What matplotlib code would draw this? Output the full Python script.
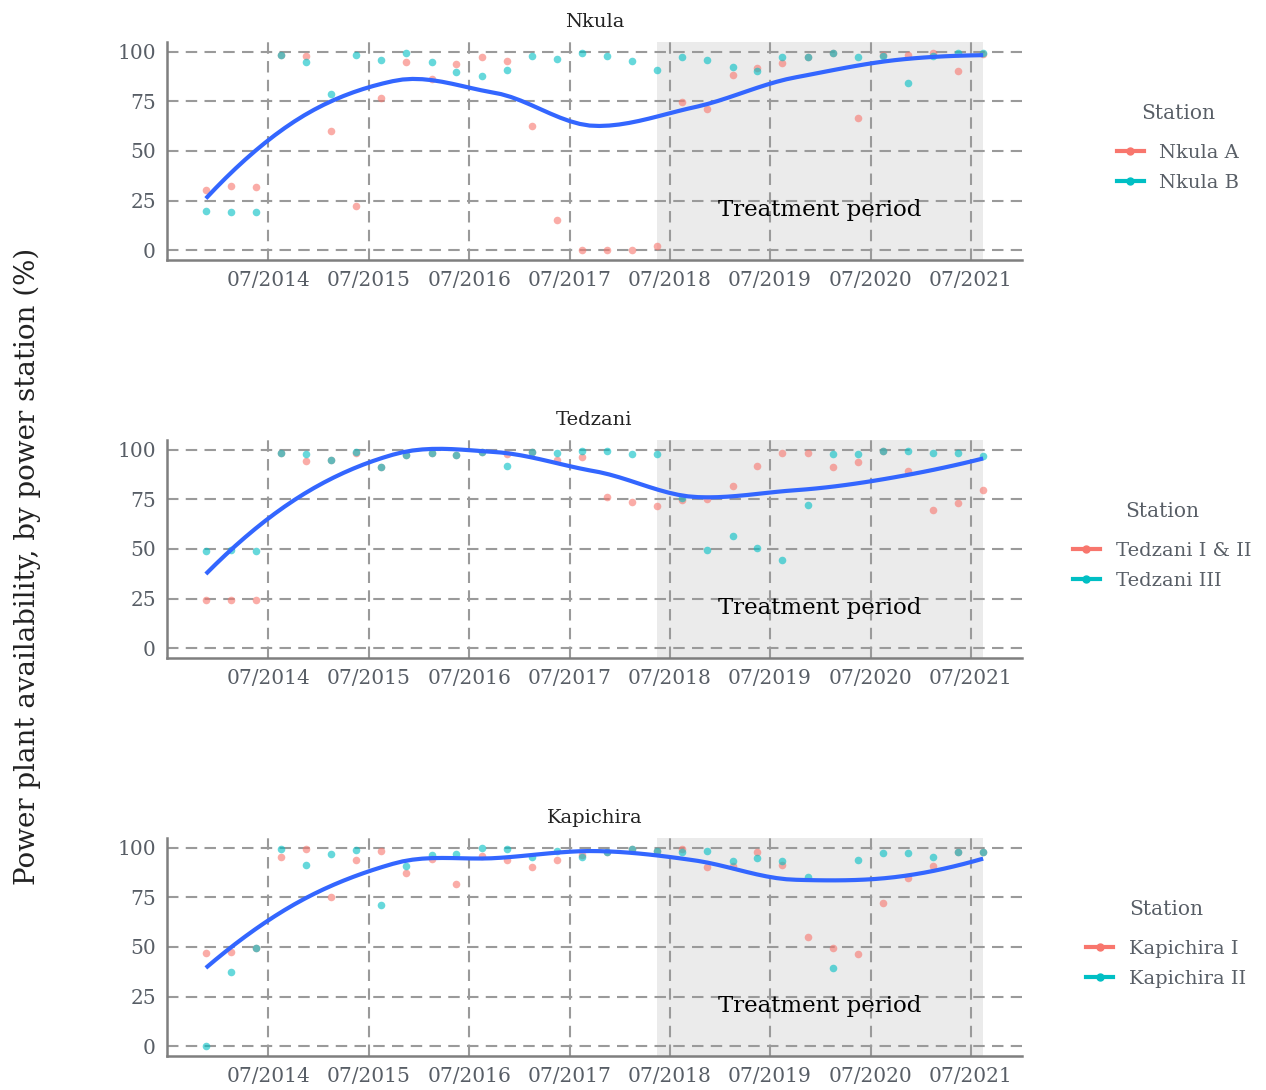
import numpy as np
import pandas as pd
import matplotlib
matplotlib.use("Agg")
import matplotlib.pyplot as plt
import matplotlib.dates as mdates
from matplotlib.lines import Line2D

plt.rcParams['font.family'] = ['DejaVu Serif']

# ---------------- data ----------------
quarters = pd.date_range('2013-11-01', periods=32, freq='3MS') + pd.Timedelta(days=14)
treatment_start = quarters[18]
treatment_end = quarters[-1]
tick_dates = pd.date_range('2014-07-01', '2021-07-01', freq='12MS')
tick_labels = [d.strftime('%m/%Y') for d in tick_dates]

nkula_a = [30.2, 32.3, 31.6, 98.5, 98.1, 60.1, 22.3, 76.5, 94.9, 86.5, 94.1, 97.6, 95.3, 62.5, 15.2, 0.0,
           0.0, 0.0, 2.0, 74.7, 71.3, 88.5, 91.9, 94.4, 97.5, 99.2, 66.4, 98.6, 98.5, 99.5, 90.4, 99.0]
nkula_b = [19.6, 19.4, 19.1, 98.6, 94.9, 78.7, 98.6, 95.8, 99.2, 94.8, 89.7, 87.7, 90.9, 98.1, 96.3, 99.7,
           98.1, 95.3, 90.9, 97.5, 95.8, 92.6, 90.4, 97.5, 97.5, 99.2, 97.6, 97.8, 84.3, 98.1, 99.5, 99.2]

tedzani_12 = [24.5, 24.5, 24.5, 98.3, 94.6, 94.9, 98.3, 91.6, 97.5, 98.3, 97.5, 98.8, 98.1, 98.8, 94.8, 96.3,
              76.4, 73.5, 71.5, 74.7, 75.2, 81.8, 91.9, 98.5, 98.6, 91.6, 94.1, 99.2, 89.4, 69.5, 73.4, 79.8]
tedzani_3 = [48.9, 49.7, 48.9, 98.3, 98.0, 94.9, 99.0, 91.6, 97.5, 98.3, 97.5, 98.8, 91.9, 98.8, 98.5, 99.5,
             99.5, 97.8, 98.0, 75.9, 49.7, 56.8, 50.6, 44.4, 72.0, 98.1, 98.1, 99.2, 99.5, 98.5, 98.5, 97.0]

kapichira_1 = [47.2, 47.7, 49.4, 95.3, 99.5, 75.0, 94.1, 98.3, 87.5, 94.6, 82.0, 95.8, 94.1, 90.6, 94.1, 96.3,
               97.8, 99.2, 98.3, 99.2, 90.2, 91.1, 97.8, 91.6, 54.8, 49.4, 46.5, 72.3, 84.8, 90.7, 97.8, 98.0]
kapichira_2 = [0.0, 37.3, 49.4, 99.2, 91.4, 97.0, 99.0, 71.2, 90.7, 96.3, 97.0, 100.0, 99.7, 95.4, 98.3, 95.4,
               97.8, 99.2, 98.3, 98.0, 98.3, 93.6, 94.9, 93.6, 85.3, 39.6, 93.9, 97.3, 97.5, 95.4, 97.8, 98.0]

panels = [
    ("Nkula", ["Nkula A", "Nkula B"], [nkula_a, nkula_b]),
    ("Tedzani", ["Tedzani I & II", "Tedzani III"], [tedzani_12, tedzani_3]),
    ("Kapichira", ["Kapichira I", "Kapichira II"], [kapichira_1, kapichira_2]),
]

colors = ['#F8766D', '#00BFC4']
text_col = '#585e66'


def local_fit(x, y, x0, q):
    d = np.abs(x - x0)
    h = np.sort(d)[q - 1]
    u = np.clip(d / h, 0, 1)
    w = (1 - u ** 3) ** 3
    X = np.vstack([np.ones_like(x), x - x0, (x - x0) ** 2]).T
    Wt = np.sqrt(w)
    beta, *_ = np.linalg.lstsq(X * Wt[:, None], y * Wt, rcond=None)
    return beta[0], beta[1]


def loess(x, y, xs, span=0.75):
    """loess (degree 2, tricube) evaluated on kd-tree vertices and
    blended with cubic Hermite interpolation, like R's default surface."""
    x = np.asarray(x, float); y = np.asarray(y, float)
    n = len(x); q = int(np.floor(n * span))
    fc = int(np.floor(n * span * 0.2))
    lo, hi = x.min(), x.max()
    marg = 0.005 * (hi - lo)
    verts = {lo - marg, hi + marg}

    def split(pts):
        if len(pts) <= fc:
            return
        s = np.sort(pts)
        m = len(s) // 2
        cut = (s[m - 1] + s[m]) / 2
        left, right = s[s <= cut], s[s > cut]
        if len(left) == 0 or len(right) == 0:
            return
        verts.add(cut)
        split(left); split(right)

    split(x)
    v = np.array(sorted(verts))
    fv = np.array([local_fit(x, y, vi, q) for vi in v])
    out = []
    for t in xs:
        i = np.clip(np.searchsorted(v, t) - 1, 0, len(v) - 2)
        x0, x1 = v[i], v[i + 1]
        hh = x1 - x0
        s = (t - x0) / hh
        h00 = 2 * s ** 3 - 3 * s ** 2 + 1
        h10 = s ** 3 - 2 * s ** 2 + s
        h01 = -2 * s ** 3 + 3 * s ** 2
        h11 = s ** 3 - s ** 2
        out.append(h00 * fv[i, 0] + h10 * hh * fv[i, 1] + h01 * fv[i + 1, 0] + h11 * hh * fv[i + 1, 1])
    return np.array(out)


W, H = 1266, 1090
fig = plt.figure(figsize=(W / 100, H / 100), dpi=100)

tops = [42, 440, 838]
legend_cx = [1178, 1162, 1166]
left_px, right_px = 167, 1022
height_px = 218

xnum = mdates.date2num(quarters)
rng = xnum[-1] - xnum[0]
xlim = (xnum[0] - 0.05 * rng, xnum[-1] + 0.05 * rng)

grid_kw = dict(color='#9a9a9a', lw=1.5, linestyle=(0, (5.5, 3.5)), zorder=1)

for (title, names, series), top, lcx in zip(panels, tops, legend_cx):
    ax = fig.add_axes([left_px / W, 1 - (top + height_px) / H, (right_px - left_px) / W, height_px / H])
    ax.set_xlim(*xlim)
    ax.set_ylim(-5, 105)
    ts, te = mdates.date2num(treatment_start), mdates.date2num(treatment_end)
    ax.axvspan(ts, te, color='#ebebeb', zorder=0, lw=0)
    for yv in [0, 25, 50, 75, 100]:
        ax.axhline(yv, **grid_kw)
    for d in tick_dates:
        ax.axvline(mdates.date2num(d), **grid_kw)
    for s, c in zip(series, colors):
        ax.scatter(xnum, s, s=30, color=c, alpha=0.6, lw=0, zorder=3)
    allx = np.concatenate([xnum, xnum])
    ally = np.concatenate(series)
    xs = np.linspace(xnum[0], xnum[-1], 80)
    ax.plot(xs, loess(allx, ally, xs), color='#3366FF', lw=3, zorder=4, solid_capstyle='butt')
    ax.text((ts + te) / 2, 20, "Treatment period", ha='center', va='center',
            fontsize=16.5, color='black', zorder=5)
    ax.set_yticks([0, 25, 50, 75, 100])
    ax.set_yticklabels(['0', '25', '50', '75', '100'])
    ax.set_xticks(mdates.date2num(tick_dates))
    ax.set_xticklabels(tick_labels)
    ax.tick_params(length=0, labelsize=14.5, colors=text_col, pad=8)
    for sp in ['top', 'right']:
        ax.spines[sp].set_visible(False)
    for sp in ['left', 'bottom']:
        ax.spines[sp].set_color('#7f7f7f')
        ax.spines[sp].set_linewidth(1.8)
    ax.set_title(title, fontsize=14, color='#222222', pad=11)
    handles = [Line2D([], [], color=c, lw=3, marker='o', markersize=5) for c in colors]
    leg = fig.legend(handles, names, title='Station', loc='center',
                     bbox_to_anchor=(lcx / W, 1 - (top + 106) / H), frameon=False,
                     fontsize=14, title_fontsize=14.5, handlelength=1.4, labelspacing=0.62,
                     handletextpad=0.8, labelcolor=text_col)
    leg.get_title().set_color(text_col)
    leg._legend_box.sep = 15

fig.text(27 / W, 0.48, "Power plant availability, by power station (%)", rotation=90,
         ha='center', va='center', fontsize=20, color='#222222')

fig.savefig('out.png', dpi=100)
